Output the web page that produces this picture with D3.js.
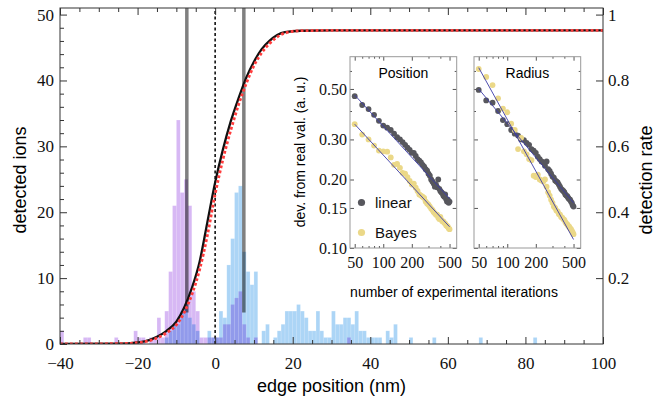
<!DOCTYPE html>
<html><head><meta charset="utf-8">
<style>
  body { margin: 0; background: #fff; }
  svg { display: block; }
</style>
</head><body>
<div id="chart"></div>
<script src="https://cdnjs.cloudflare.com/ajax/libs/d3/7.8.5/d3.min.js"></script>
<script>
// ion histograms, 1 nm bins (left edge of each bin, counts)
const purpleStart = [-40,-34,-33,-26,-21,-20,-19,-17,-16,-15,-14,-13,-12,-11,-10,-9,-8,-7,-6,-5,-4,-3,-2,-1,0,1,2,3,4,5,6,7,8,10,34];
const purpleCount = [2,1,1,1,2,1,1,1,1,4,1,5,11,21,34,23,25,21,8,5,1,1,1,1,1,1,3,3,6,7,8,3,1,1,1];
const blueStart = [-13,-12,-11,-10,-9,-8,-7,-6,-5,-2,-1,0,1,2,3,4,5,6,7,8,9,10,12,13,15,16,17,18,19,20,21,22,23,24,25,26,27,28,29,30,31,32,33,34,35,36,37,38,39,40,41,42,44,45,46,50,56,68,82];
const blueCount = [1,2,3,3,5,6,4,3,2,2,1,1,5,4,12,16,23,24,14,11,9,11,2,3,1,2,3,5,5,5,6,5,4,2,2,5,2,1,1,5,3,3,4,4,3,5,2,2,1,1,1,1,2,1,3,1,1,1,1];

// detection rate curves
const rateX   = [-40,-25,-20,-17,-15,-12.5,-10,-8,-6,-4,-2,0,2,4,6,8,10,12,14,16,18,22,30,100];
const rateFit = [0,0.001,0.005,0.012,0.022,0.04,0.068,0.11,0.17,0.25,0.37,0.49,0.59,0.675,0.745,0.808,0.857,0.895,0.92,0.938,0.947,0.951,0.952,0.952];
const rateSim = [0,0.001,0.004,0.010,0.018,0.034,0.058,0.095,0.15,0.226,0.33,0.455,0.56,0.648,0.725,0.79,0.845,0.884,0.912,0.932,0.944,0.951,0.952,0.952];

// vertical markers
const markerX = [-7.3, 7.4];

// insets: deviation vs number of iterations
const iterations = [50,60,70,80,90,100,110,120,130,140,150,160,170,180,190,200,210,220,230,240,250,260,270,280,290,300,310,320,330,340,350,360,370,380,390,400,410,420,430,440,450,460,470,480,490,500];
const posLinear = [0.465,0.425,0.408,0.385,0.362,0.345,0.338,0.330,0.318,0.307,0.300,0.292,0.284,0.276,0.270,0.262,0.262,0.254,0.246,0.242,0.238,0.232,0.228,0.222,0.219,0.212,0.208,0.200,0.196,0.192,0.186,0.190,0.185,0.200,0.182,0.178,0.176,0.174,0.170,0.168,0.172,0.164,0.160,0.163,0.158,0.160];
const posBayes  = [0.350,0.315,0.300,0.282,0.268,0.266,0.265,0.250,0.232,0.234,0.225,0.214,0.212,0.205,0.197,0.190,0.192,0.184,0.178,0.172,0.170,0.168,0.166,0.160,0.157,0.155,0.152,0.149,0.147,0.144,0.142,0.140,0.140,0.136,0.134,0.137,0.133,0.131,0.131,0.129,0.128,0.126,0.125,0.124,0.122,0.121];
const radLinear = [0.495,0.445,0.435,0.400,0.365,0.350,0.330,0.318,0.312,0.300,0.298,0.290,0.284,0.272,0.268,0.262,0.252,0.246,0.240,0.238,0.230,0.240,0.222,0.218,0.212,0.206,0.204,0.198,0.196,0.194,0.190,0.186,0.182,0.180,0.178,0.176,0.172,0.170,0.169,0.166,0.164,0.163,0.160,0.158,0.154,0.152];
const radBayes  = [0.612,0.565,0.520,0.455,0.410,0.395,0.352,0.330,0.272,0.305,0.266,0.258,0.246,0.243,0.208,0.205,0.210,0.200,0.198,0.196,0.200,0.186,0.176,0.170,0.163,0.158,0.152,0.150,0.146,0.145,0.141,0.140,0.137,0.136,0.134,0.133,0.130,0.128,0.127,0.125,0.124,0.122,0.121,0.119,0.117,0.115];
const fitEnds = [50, 500];
const posLinearFit = [0.47, 0.165];
const posBayesFit  = [0.35, 0.124];
const radLinearFit = [0.50, 0.158];
const radBayesFit  = [0.62, 0.109];

const xTicks = [-40,-20,0,20,40,60,80,100];
const yTicks = [0,10,20,30,40,50];
const rateTicks = [0.2,0.4,0.6,0.8,1];
const insetYTicks = [0.10,0.15,0.20,0.30,0.50];
const insetXTicks = [50,100,200,500];

const W = 659, H = 402;
const frame = { left: 60, right: 603, top: 8, bottom: 344 };
const serif = '"Liberation Serif", "Times New Roman", serif';
const sans = '"Liberation Sans", Arial, Helvetica, sans-serif';

const svg = d3.select("#chart").append("svg").attr("width", W).attr("height", H);

const x = d3.scaleLinear().domain([-40, 100]).range([frame.left, frame.right]);
const y = d3.scaleLinear().domain([0, 51]).range([frame.bottom, frame.top]);
const yRate = d3.scaleLinear().domain([0, 1.02]).range([frame.bottom, frame.top]);

svg.append("clipPath").attr("id", "plotClip").append("rect")
  .attr("x", frame.left).attr("y", frame.top)
  .attr("width", frame.right - frame.left).attr("height", frame.bottom - frame.top);

const plot = svg.append("g").attr("clip-path", "url(#plotClip)");

// grey markers (under the bars)
plot.selectAll("line.marker").data(markerX).join("line")
  .attr("class", "marker")
  .attr("x1", d => x(d)).attr("x2", d => x(d))
  .attr("y1", y(4.8)).attr("y2", y(51))
  .attr("stroke", "#808080").attr("stroke-width", 3.5);

function drawBars(starts, counts, color) {
  plot.append("g").selectAll("rect").data(starts).join("rect")
    .attr("x", d => x(d))
    .attr("width", d => x(d + 1) - x(d))
    .attr("y", (d, i) => y(counts[i]))
    .attr("height", (d, i) => y(0) - y(counts[i]))
    .attr("fill", color)
    .attr("stroke", "#fff").attr("stroke-opacity", 0.35).attr("stroke-width", 0.6)
    .style("mix-blend-mode", "multiply");
}
drawBars(purpleStart, purpleCount, "#d7b8f4");
drawBars(blueStart, blueCount, "#acd5f6");

// dashed line at zero
plot.append("line")
  .attr("x1", x(0)).attr("x2", x(0)).attr("y1", y(0)).attr("y2", y(51))
  .attr("stroke", "#111").attr("stroke-width", 1.6).attr("stroke-dasharray", "3,2.5");

const rateLine = d3.line().x(d => x(d[0])).y(d => yRate(d[1])).curve(d3.curveMonotoneX);
plot.append("path")
  .attr("d", rateLine(rateX.map((v, i) => [v, rateFit[i]])))
  .attr("fill", "none").attr("stroke", "#111").attr("stroke-width", 2.3);
plot.append("path")
  .attr("d", rateLine(rateX.map((v, i) => [v, rateSim[i]])))
  .attr("fill", "none").attr("stroke", "#ff3c3c").attr("stroke-width", 2.8)
  .attr("stroke-dasharray", "2.8,2.2");

// axes with inward ticks
function tidy(g, size) {
  g.attr("font-family", serif).attr("font-size", size);
  g.select(".domain").remove();
  g.selectAll(".tick line").attr("stroke", "#333");
  g.selectAll(".tick text").attr("fill", "#111")
    .attr("font-family", serif).attr("font-size", size);
}
const minorX = d3.range(-40, 101, 5).filter(v => v % 20 !== 0);
const minorY = d3.range(0, 51, 2).filter(v => v % 10 !== 0);

svg.append("g").attr("transform", `translate(0,${frame.bottom})`)
  .call(d3.axisBottom(x).tickValues(xTicks).tickSize(-7).tickPadding(13))
  .call(g => tidy(g, 17));
svg.append("g").attr("transform", `translate(0,${frame.bottom})`)
  .call(d3.axisBottom(x).tickValues(minorX).tickSize(-4).tickFormat(""))
  .call(g => tidy(g, 17));
svg.append("g").attr("transform", `translate(0,${frame.top})`)
  .call(d3.axisTop(x).tickValues(xTicks).tickSize(-7).tickFormat(""))
  .call(g => tidy(g, 17));
svg.append("g").attr("transform", `translate(0,${frame.top})`)
  .call(d3.axisTop(x).tickValues(minorX).tickSize(-4).tickFormat(""))
  .call(g => tidy(g, 17));
svg.append("g").attr("transform", `translate(${frame.left},0)`)
  .call(d3.axisLeft(y).tickValues(yTicks).tickSize(-7).tickPadding(6))
  .call(g => tidy(g, 17));
svg.append("g").attr("transform", `translate(${frame.left},0)`)
  .call(d3.axisLeft(y).tickValues(minorY).tickSize(-4).tickFormat(""))
  .call(g => tidy(g, 17));
svg.append("g").attr("transform", `translate(${frame.right},0)`)
  .call(d3.axisRight(yRate).tickValues(rateTicks).tickSize(-7).tickPadding(5)
    .tickFormat(d => d === 1 ? "1" : d.toFixed(1)))
  .call(g => tidy(g, 17));

svg.append("rect")
  .attr("x", frame.left).attr("y", frame.top)
  .attr("width", frame.right - frame.left).attr("height", frame.bottom - frame.top)
  .attr("fill", "none").attr("stroke", "#333").attr("stroke-width", 1);

svg.append("text").attr("x", (frame.left + frame.right) / 2).attr("y", 392)
  .attr("text-anchor", "middle").attr("font-family", sans).attr("font-size", 18)
  .text("edge position (nm)");
svg.append("text").attr("transform", "translate(26,180) rotate(-90)")
  .attr("text-anchor", "middle").attr("font-family", sans).attr("font-size", 18)
  .text("detected ions");
svg.append("text").attr("transform", "translate(652,180) rotate(-90)")
  .attr("text-anchor", "middle").attr("font-family", sans).attr("font-size", 18)
  .text("detection rate");

// insets
const inset = { top: 56.7, bottom: 248, width: 106.7 };
const grayDot = "#57575d", yellowDot = "#ebd888", fitColor = "#3b3ba8";

function drawInset(left, title, linVals, bayVals, linFit, bayFit, first) {
  const ix = d3.scaleLog().domain([44.6, 595]).range([left, left + inset.width]);
  const iy = d3.scaleLog().domain([0.1, 0.693]).range([inset.bottom, inset.top]);
  const g = svg.append("g");
  g.append("rect").attr("x", left).attr("y", inset.top)
    .attr("width", inset.width).attr("height", inset.bottom - inset.top).attr("fill", "#fff");

  const ax = (axis, tx, ty, labels) => g.append("g").attr("transform", `translate(${tx},${ty})`)
    .call(axis).call(a => {
      a.attr("font-family", serif).attr("font-size", 16);
      a.select(".domain").remove();
      a.selectAll(".tick line").attr("stroke", "#555");
      a.selectAll(".tick text").attr("fill", "#111")
        .attr("font-family", serif).attr("font-size", 16);
      if (!labels) a.selectAll(".tick text").remove();
    });
  ax(d3.axisBottom(ix).tickValues(insetXTicks).tickSize(-4).tickPadding(9).tickFormat(d3.format("d")), 0, inset.bottom, true);
  ax(d3.axisBottom(ix).tickValues([60,70,80,90,300,400]).tickSize(-2), 0, inset.bottom, false);
  ax(d3.axisTop(ix).tickValues(insetXTicks).tickSize(-4), 0, inset.top, false);
  ax(d3.axisTop(ix).tickValues([60,70,80,90,300,400]).tickSize(-2), 0, inset.top, false);
  ax(d3.axisLeft(iy).tickValues(insetYTicks).tickSize(-4).tickPadding(3).tickFormat(d3.format(".2f")), left, 0, first);
  ax(d3.axisLeft(iy).tickValues([0.4,0.6]).tickSize(-2), left, 0, false);
  ax(d3.axisRight(iy).tickValues(insetYTicks).tickSize(-4), left + inset.width, 0, false);
  ax(d3.axisRight(iy).tickValues([0.4,0.6]).tickSize(-2), left + inset.width, 0, false);

  g.append("g").selectAll("circle").data(iterations).join("circle")
    .attr("cx", d => ix(d)).attr("cy", (d, i) => iy(linVals[i])).attr("r", 2.9).attr("fill", grayDot);
  g.append("g").selectAll("circle").data(iterations).join("circle")
    .attr("cx", d => ix(d)).attr("cy", (d, i) => iy(bayVals[i])).attr("r", 2.9).attr("fill", yellowDot);

  const fl = d3.line().x(d => ix(d[0])).y(d => iy(d[1]));
  [linFit, bayFit].forEach(f => {
    g.append("path").attr("d", fl(fitEnds.map((n, i) => [n, f[i]])))
      .attr("fill", "none").attr("stroke", fitColor).attr("stroke-width", 0.9);
  });

  g.append("rect").attr("x", left).attr("y", inset.top)
    .attr("width", inset.width).attr("height", inset.bottom - inset.top)
    .attr("fill", "none").attr("stroke", "#999").attr("stroke-width", 1);

  g.append("text").attr("x", left + inset.width / 2).attr("y", 78)
    .attr("text-anchor", "middle").attr("font-family", sans).attr("font-size", 14)
    .text(title);
  return g;
}

const posInset = drawInset(350, "Position", posLinear, posBayes, posLinearFit, posBayesFit, true);
drawInset(474, "Radius", radLinear, radBayes, radLinearFit, radBayesFit, false);

// legend in the Position panel
const legendItems = ["linear", "Bayes"];
const legendColors = [grayDot, yellowDot];
legendItems.forEach((name, i) => {
  posInset.append("circle").attr("cx", 361.5).attr("cy", 202.5 + i * 30)
    .attr("r", 3.6).attr("fill", legendColors[i]);
  posInset.append("text").attr("x", 375).attr("y", 208 + i * 30)
    .attr("font-family", sans).attr("font-size", 15).attr("fill", "#111").text(name);
});

svg.append("text").attr("transform", "translate(305,152) rotate(-90)")
  .attr("text-anchor", "middle").attr("font-family", sans).attr("font-size", 14)
  .text("dev. from real val. (a. u.)");
svg.append("text").attr("x", 454).attr("y", 297)
  .attr("text-anchor", "middle").attr("font-family", sans).attr("font-size", 14)
  .text("number of experimental iterations");
</script>
</body></html>
